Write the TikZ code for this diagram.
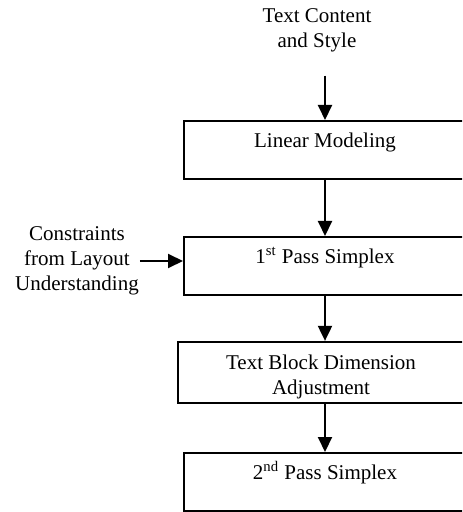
\documentclass[tikz,border=0pt]{standalone}
\usepackage{fontspec}
\setmainfont{Liberation Serif}
\usetikzlibrary{arrows.meta, positioning}

\begin{document}
\begin{tikzpicture}[x=0.5pt, y=-0.5pt, line width=1pt, > = {Triangle[width=7pt,length=7.5pt]},
    font=\fontsize{10.5}{12.4}\selectfont,
    procbox/.style={draw, minimum width=141pt, minimum height=29pt, inner xsep=4pt, inner ysep=2pt, align=center},
    topbox/.style={procbox, text height=8pt, text depth=10.5pt},
    lbl/.style={inner sep=0pt, align=center}]
    \useasboundingbox (0,0) rectangle (462,512);
    \clip (0,0) rectangle (462,512);
    \node[lbl] (src) at (317,30) {Text Content\\and Style};
    \node[topbox] (lin) at (325,150) {Linear Modeling};
    \node[topbox] (simp1) at (325,266) {1\textsuperscript{st} Pass Simplex};
    \node[lbl] (cons) at (77,261) {Constraints\\from Layout\\Understanding};
    \node[procbox, minimum width=143pt] (adj) at (321,372.5) {\rule{0pt}{12pt}Text Block Dimension\\Adjustment};
    \node[topbox] (simp2) at (325,482) {2\textsuperscript{nd} Pass Simplex};
    \draw[->, shorten <=11.5pt] (src.south -| lin.north) -- (lin.north);
    \draw[->] (lin.south) -- (simp1.north);
    \draw[->] (cons.east) -- (cons.east -| simp1.west);
    \draw[->] (simp1.south) -- (simp1.south |- adj.north);
    \draw[->] (adj.south -| simp2.north) -- (simp2.north);
\end{tikzpicture}
\end{document}
